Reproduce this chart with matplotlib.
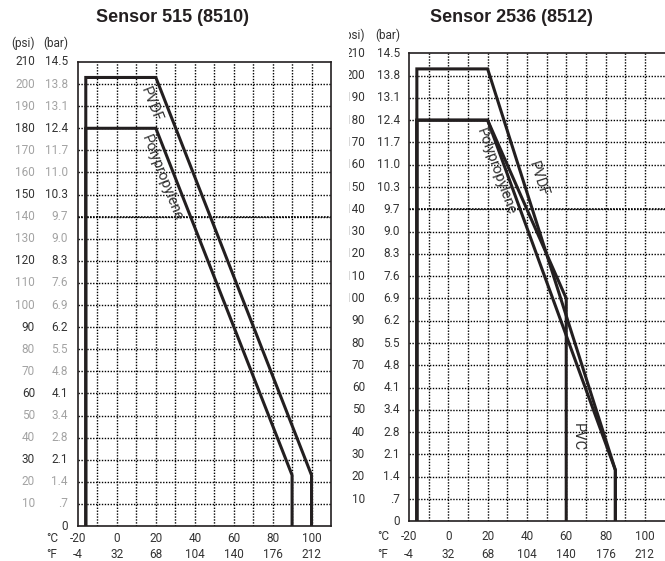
import numpy as np
import matplotlib
matplotlib.use("Agg")
import matplotlib.pyplot as plt
from matplotlib import transforms
from matplotlib.patches import Rectangle


W, H = 665, 561

psi_ticks = [210, 200, 190, 180, 170, 160, 150, 140, 130, 120, 110,
             100, 90, 80, 70, 60, 50, 40, 30, 20, 10, 0]
psi_labels = ["210", "200", "190", "180", "170", "160", "150", "140", "130", "120", "110",
              "100", "90", "80", "70", "60", "50", "40", "30", "20", "10", ""]
bar_labels = ["14.5", "13.8", "13.1", "12.4", "11.7", "11.0", "10.3", "9.7", "9.0", "8.3", "7.6",
              "6.9", "6.2", "5.5", "4.8", "4.1", "3.4", "2.8", "2.1", "1.4", ".7", "0"]
degc_ticks = [-20, 0, 20, 40, 60, 80, 100]
degf_labels = ["-4", "32", "68", "104", "140", "176", "212"]

# Sensor 515 (8510)
s515_pvdf_t = [-16, -16, 20, 100, 100]
s515_pvdf_p = [0, 203, 203, 23, 0]
s515_pp_t = [-16, -16, 20, 90, 90]
s515_pp_p = [0, 180, 180, 23, 0]

# Sensor 2536 (8512)
s2536_pvdf_t = [-16, -16, 20, 85, 85]
s2536_pvdf_p = [0, 203, 203, 23, 0]
s2536_pp_t = [-16, -16, 20, 85, 85]
s2536_pp_p = [0, 180, 180, 23, 0]
s2536_pvc_t = [-16, -16, 20, 60, 60]
s2536_pvc_p = [0, 180, 180, 100, 0]

INK = "#231f20"
GRAY = "#a3a3a3"

plt.rcParams["font.family"] = ["Roboto", "DejaVu Sans"]


def px_axes(fig, left, top, right, bottom):
    return fig.add_axes([left / W, 1 - bottom / H, (right - left) / W, (bottom - top) / H])


def setup(ax, fig, gray_labels, bar_dx, psi_dx, head_dy, c_dy, f_dy):
    ax.set_xlim(-20, 110)
    ax.set_ylim(0, 210)
    ax.set_xticks([])
    ax.set_yticks([])
    grid = dict(color="black", linestyle=(0, (1, 1.1)), linewidth=1.0, zorder=1)
    for t in np.arange(-10, 110, 10):
        ax.axvline(t, **grid)
    for p in psi_ticks[1:-1]:
        ax.axhline(p, **grid)
    ax.axhline(140, color="black", linestyle=(0, (1, 0.8)), linewidth=1.2, zorder=1)
    for s in ax.spines.values():
        s.set_linewidth(1.2)
        s.set_color(INK)

    ytr = ax.get_yaxis_transform()
    bar_tr = transforms.offset_copy(ytr, fig, x=-bar_dx, units="dots")
    psi_tr = transforms.offset_copy(ytr, fig, x=-psi_dx, units="dots")
    for p, pl, bl in zip(psi_ticks, psi_labels, bar_labels):
        col = GRAY if (gray_labels and p % 30 != 0) else "#333333"
        ax.text(0, p, bl, transform=bar_tr, ha="right", va="center", fontsize=8.5, color=col)
        ax.text(0, p, pl, transform=psi_tr, ha="right", va="center", fontsize=8.5, color=col)
    head_bar = transforms.offset_copy(ytr, fig, x=-bar_dx, y=head_dy, units="dots")
    head_psi = transforms.offset_copy(ytr, fig, x=-psi_dx, y=head_dy, units="dots")
    ax.text(0, 210, "(bar)", transform=head_bar, ha="right", va="center", fontsize=8.5, color="#333333")
    ax.text(0, 210, "(psi)", transform=head_psi, ha="right", va="center", fontsize=8.5, color="#333333")

    xtr = ax.get_xaxis_transform()
    c_tr = transforms.offset_copy(xtr, fig, y=-c_dy, units="dots")
    f_tr = transforms.offset_copy(xtr, fig, y=-f_dy, units="dots")
    for c, f in zip(degc_ticks, degf_labels):
        ax.text(c, 0, str(c), transform=c_tr, ha="center", va="center", fontsize=8.5, color="#333333")
        ax.text(c, 0, f, transform=f_tr, ha="center", va="center", fontsize=8.5, color="#333333")
    cl_tr = transforms.offset_copy(xtr, fig, x=-26, y=-c_dy, units="dots")
    fl_tr = transforms.offset_copy(xtr, fig, x=-26, y=-f_dy, units="dots")
    ax.text(-20, 0, "°C", transform=cl_tr, ha="center", va="center", fontsize=8.5, color="#333333")
    ax.text(-20, 0, "°F", transform=fl_tr, ha="center", va="center", fontsize=8.5, color="#333333")


fig = plt.figure(figsize=(W / 100, H / 100), dpi=100)

# left chart
ax1 = px_axes(fig, 78, 62, 331, 526)
setup(ax1, fig, True, 10, 43, 19, 12, 29)
ax1.plot(s515_pvdf_t, s515_pvdf_p, color=INK, lw=2.2, solid_joinstyle="miter", zorder=3)
ax1.plot(s515_pp_t, s515_pp_p, color=INK, lw=2.2, solid_joinstyle="miter", zorder=3)
lab = dict(ha="center", va="center", fontsize=10.5, color="#333333", rotation_mode="anchor", zorder=4)
ax1.text(17.8, 191, "PVDF", rotation=-68.6, **lab)
ax1.text(23.2, 157.5, "Polypropylene", rotation=-68.6, **lab)

# right chart
ax2 = px_axes(fig, 409, 53.3, 664.5, 521.3)
setup(ax2, fig, False, 9, 44, 18, 15.5, 33.5)
ax2.spines["right"].set_visible(False)
ax2.plot(s2536_pvdf_t, s2536_pvdf_p, color=INK, lw=2.2, solid_joinstyle="miter", zorder=3)
ax2.plot(s2536_pp_t, s2536_pp_p, color=INK, lw=2.2, solid_joinstyle="miter", zorder=3)
ax2.plot(s2536_pvc_t, s2536_pvc_p, color=INK, lw=2.2, solid_joinstyle="miter", zorder=3)
ax2.text(24.3, 156.8, "Polypropylene", rotation=-70, **lab)
ax2.text(45.6, 153.6, "PVDF", rotation=-72, **lab)
ax2.text(66.0, 38, "PVC", rotation=-90, **lab)

# titles
fig.text(173 / W, 1 - 17.5 / H, "Sensor 515 (8510)", ha="center", va="center",
         fontsize=13, fontweight="bold", family=["Liberation Sans", "DejaVu Sans"], color=INK)
fig.text(511 / W, 1 - 17.5 / H, "Sensor 2536 (8512)", ha="center", va="center",
         fontsize=13, fontweight="bold", family=["Liberation Sans", "DejaVu Sans"], color=INK)

# the left panel covers the start of the right panel's psi column
fig.add_artist(Rectangle((332.5 / W, 0), 16 / W, (H - 27) / H, transform=fig.transFigure,
                         facecolor="white", edgecolor="none", zorder=10))

fig.savefig("out.png", dpi=100)
